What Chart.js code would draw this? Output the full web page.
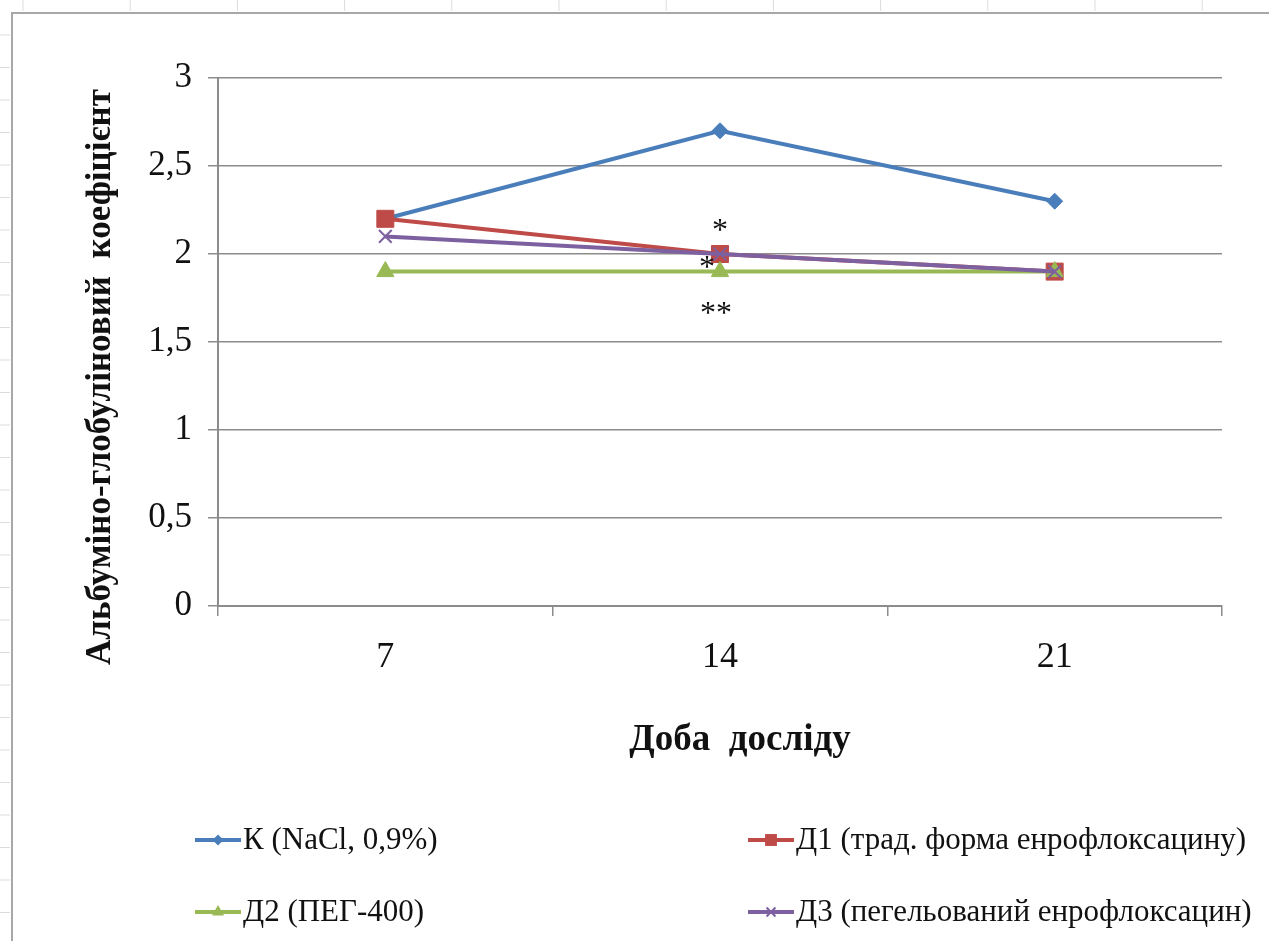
<!DOCTYPE html>
<html lang="uk">
<head>
<meta charset="utf-8">
<title>Альбуміно-глобуліновий коефіцієнт</title>
<script src="https://cdn.jsdelivr.net/npm/chart.js@4/dist/chart.umd.min.js"></script>
<style>
  html, body { margin: 0; padding: 0; background: #fff; }
  #wrap { width: 1269px; height: 941px; position: relative; }
</style>
</head>
<body>
<div id="wrap"><canvas id="chart" width="1269" height="941"></canvas></div>
<script>
const days = ['7', '14', '21'];
const seriesK  = [2.2, 2.7, 2.3];
const seriesD1 = [2.2, 2.0, 1.9];
const seriesD2 = [1.9, 1.9, 1.9];
const seriesD3 = [2.1, 2.0, 1.9];
const yTicks = [0, 0.5, 1, 1.5, 2, 2.5, 3];

const seriesNames = [
  'К (NaCl, 0,9%)',
  'Д1 (трад. форма енрофлоксацину)',
  'Д2 (ПЕГ-400)',
  'Д3 (пегельований енрофлоксацин)'
];
const yTitle = 'Альбуміно-глобуліновий  коефіцієнт';
const xTitle = 'Доба  досліду';

// значущість на 14 добу
const marks = [
  { day: '14', value: 2.16, text: '*',  dx: 0 },
  { day: '14', value: 1.95, text: '*',  dx: -13 },
  { day: '14', value: 1.69, text: '**', dx: -4 }
];

const SERIF = '"Liberation Serif", "Times New Roman", serif';
const colors = ['#4a7ebb', '#be4b48', '#98b954', '#7d60a0'];
const shapes = ['rectRot', 'rect', 'triangle', 'crossRot'];
const radii  = [8, 12, 10, 9];

function drawMarker(ctx, style, x, y, r, color) {
  ctx.save();
  ctx.fillStyle = color;
  ctx.strokeStyle = color;
  ctx.lineWidth = 2;
  ctx.beginPath();
  if (style === 'rectRot') {
    ctx.moveTo(x, y - r); ctx.lineTo(x + r, y); ctx.lineTo(x, y + r); ctx.lineTo(x - r, y);
    ctx.closePath(); ctx.fill();
  } else if (style === 'rect') {
    const s = r * Math.SQRT1_2;
    ctx.rect(x - s, y - s, 2 * s, 2 * s); ctx.fill();
  } else if (style === 'triangle') {
    ctx.moveTo(x, y - r); ctx.lineTo(x + r * 0.866, y + r / 2); ctx.lineTo(x - r * 0.866, y + r / 2);
    ctx.closePath(); ctx.fill();
  } else {
    const s = r * Math.SQRT1_2;
    ctx.moveTo(x - s, y - s); ctx.lineTo(x + s, y + s);
    ctx.moveTo(x + s, y - s); ctx.lineTo(x - s, y + s);
    ctx.stroke();
  }
  ctx.restore();
}

const sheetBg = {
  id: 'sheetBg',
  beforeDraw(chart) {
    const ctx = chart.ctx;
    ctx.save();
    ctx.fillStyle = '#fff';
    ctx.fillRect(0, 0, chart.width, chart.height);
    // слабкі мітки комірок аркуша
    ctx.strokeStyle = '#dcdcdc';
    ctx.lineWidth = 1;
    for (let x = 23; x < chart.width; x += 107.2) {
      ctx.beginPath(); ctx.moveTo(x, 0); ctx.lineTo(x, 11); ctx.stroke();
    }
    for (let y = 35; y < chart.height; y += 32.5) {
      ctx.beginPath(); ctx.moveTo(0, y); ctx.lineTo(10, y); ctx.stroke();
    }
    // рамка діаграми
    ctx.strokeStyle = '#a8a8a8';
    ctx.lineWidth = 2;
    ctx.beginPath();
    ctx.moveTo(12, chart.height); ctx.lineTo(12, 13); ctx.lineTo(chart.width, 13);
    ctx.stroke();
    ctx.restore();
  }
};

const extras = {
  id: 'extras',
  afterDraw(chart) {
    const ctx = chart.ctx;
    const xs = chart.scales.x, ys = chart.scales.y;
    ctx.save();
    ctx.fillStyle = '#111';

    // назви осей
    ctx.font = 'bold 35px ' + SERIF;
    ctx.textAlign = 'center';
    ctx.textBaseline = 'middle';
    ctx.save();
    ctx.translate(101, 377);
    ctx.rotate(-Math.PI / 2);
    ctx.fillText(yTitle, 0, 0);
    ctx.restore();
    ctx.font = 'bold 37px ' + SERIF;
    ctx.fillText(xTitle, 740, 740);

    // зірочки
    ctx.font = '32px ' + SERIF;
    marks.forEach((m) => {
      const px = xs.getPixelForValue(days.indexOf(m.day)) + m.dx;
      const py = ys.getPixelForValue(m.value);
      ctx.fillText(m.text, px, py + 6);
    });

    // легенда
    const cols = [195, 748];
    const rows = [840, 912];
    ctx.font = '31px ' + SERIF;
    ctx.textAlign = 'left';
    chart.data.datasets.forEach((ds, i) => {
      const x = cols[i % 2], y = rows[Math.floor(i / 2)];
      ctx.strokeStyle = colors[i];
      ctx.lineWidth = 4;
      ctx.beginPath(); ctx.moveTo(x, y); ctx.lineTo(x + 46, y); ctx.stroke();
      drawMarker(ctx, shapes[i], x + 23, y, radii[i] * 0.7, colors[i]);
      ctx.fillStyle = '#111';
      ctx.fillText(ds.label, x + 48, y + 1);
    });
    ctx.restore();
  }
};

document.addEventListener('DOMContentLoaded', () => {
  const values = [seriesK, seriesD1, seriesD2, seriesD3];
  const datasets = values.map((data, i) => ({
    label: seriesNames[i],
    data,
    borderColor: colors[i],
    backgroundColor: colors[i],
    borderWidth: 4,
    pointStyle: shapes[i],
    pointRadius: radii[i],
    pointBorderWidth: shapes[i] === 'crossRot' ? 2 : 1,
    tension: 0,
    order: values.length - 1 - i
  }));

  new Chart(document.getElementById('chart'), {
    type: 'line',
    data: { labels: days, datasets },
    plugins: [sheetBg, extras],
    options: {
      responsive: false,
      animation: false,
      layout: { padding: { top: 78, right: 47, left: 0, bottom: 0 } },
      plugins: { legend: { display: false }, tooltip: { enabled: false } },
      scales: {
        x: {
          offset: true,
          afterFit: (s) => { s.height = 335; },
          grid: { offset: true, drawOnChartArea: false, drawTicks: true, tickLength: 10, color: '#8c8c8c', lineWidth: 1.5 },
          border: { color: '#8c8c8c', width: 2 },
          ticks: { color: '#111', padding: 20, font: { family: SERIF, size: 36 } }
        },
        y: {
          min: yTicks[0],
          max: yTicks[yTicks.length - 1],
          afterFit: (s) => { s.width = 218; },
          afterBuildTicks: (s) => { s.ticks = yTicks.map((v) => ({ value: v })); },
          grid: { color: '#8c8c8c', lineWidth: 1.5, tickLength: 10 },
          border: { color: '#8c8c8c', width: 2 },
          ticks: {
            color: '#111',
            padding: 16,
            font: { family: SERIF, size: 35 },
            callback: (v) => String(v).replace('.', ',')
          }
        }
      }
    }
  });
});
</script>
</body>
</html>
